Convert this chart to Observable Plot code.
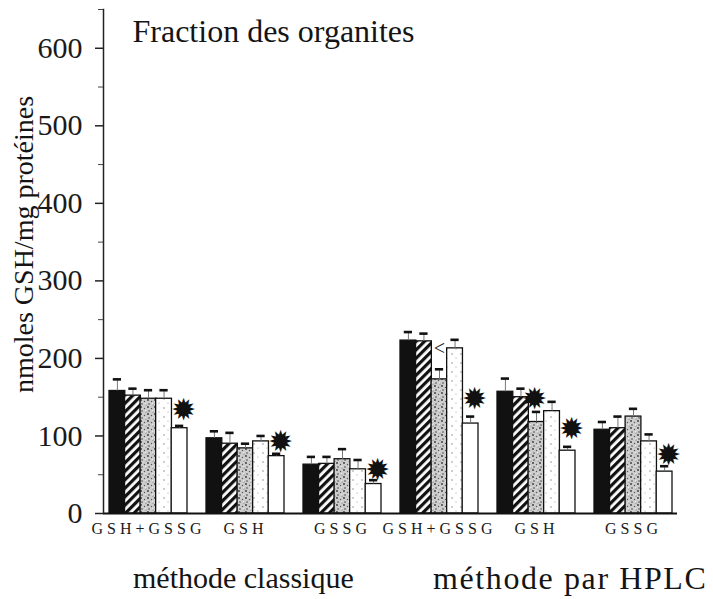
<!DOCTYPE html>
<html><head><meta charset="utf-8">
<script src="https://cdn.jsdelivr.net/npm/d3@7"></script>
<script src="https://cdn.jsdelivr.net/npm/@observablehq/plot@0.6"></script>
<style>
body{margin:0;background:#fff;}
#wrap{position:relative;width:713px;height:599px;overflow:hidden;background:#fff;}
.bottom{position:absolute;top:560px;font-family:"Liberation Serif","Times New Roman","DejaVu Serif",serif;font-size:30px;color:#141414;white-space:nowrap;line-height:36px;}
#wrap svg g[aria-label="x-axis tick label"] text{letter-spacing:4px;}
</style></head><body><div id="wrap"></div>
<script>
const title = "Fraction des organites";
const yLabel = "nmoles GSH/mg protéines";
const bottomLabels = ["méthode classique", "méthode par HPLC"];
const methods = ["classique", "classique", "classique", "HPLC", "HPLC", "HPLC"];
const fractions = ["GSH+GSSG", "GSH", "GSSG", "GSH+GSSG", "GSH", "GSSG"];
const yTicks = [0, 100, 200, 300, 400, 500, 600];
const yMinor = [50, 150, 250, 350, 450, 550, 650];

// five bar series (black, hatched, stippled, light dotted, white)
const s1 = [158, 97, 63, 223, 157, 108];
const s2 = [152, 90, 64, 222, 150, 110];
const s3 = [148, 84, 70, 173, 118, 125];
const s4 = [148, 93, 57, 213, 132, 93];
const s5 = [110, 74, 38, 116, 81, 54];
// top of error bars
const e1 = [173, 106, 73, 234, 174, 118];
const e2 = [161, 104, 73, 232, 161, 125];
const e3 = [159, 90, 83, 186, 131, 135];
const e4 = [159, 100, 69, 224, 144, 102];
const e5 = [113, 77, 43, 125, 86, 61];
// significance stars: group index, series index, y
const starGroups = [0, 1, 2, 3, 4, 5];
const starSeries5Y = [133, 92, 55, 147, 108, 75];
const starSeries3 = {group: 4, y: 147};
const arrowMark = {group: 3, y: 213};

const keys = fractions.map((f, i) => methods[i] + "|" + f);
const values = [s1, s2, s3, s4, s5];
const errs = [e1, e2, e3, e4, e5];
const rows = [];
values.forEach((vals, s) => vals.forEach((v, g) => rows.push({key: keys[g], s, value: v, err: errs[s][g]})));

const W = 713, H = 548, mL = 103, mR = 36, mT = 9, mB = 35;
const padIn = 0.2, padOut = 0.053;
const step = (W - mL - mR) / (keys.length - padIn + 2 * padOut);
const bandW = step * (1 - padIn);
const bw = bandW / 5;
const capW = 8;

const fills = ["#111", "url(#hatch)", "url(#stipple)", "url(#dots)", "#fff"];
const serif = "'Liberation Serif', 'Times New Roman', 'DejaVu Serif', serif";

const marks = [];
for (let s = 0; s < 5; s++) {
  const d = rows.filter(r => r.s === s);
  marks.push(Plot.barY(d, {x: "key", y: "value", fill: fills[s], stroke: "#111", strokeWidth: 1.3,
    insetLeft: s * bw, insetRight: (4 - s) * bw}));
}
for (let s = 0; s < 5; s++) {
  const d = rows.filter(r => r.s === s);
  marks.push(Plot.ruleX(d, {x: "key", y1: "value", y2: "err", dx: (s - 2) * bw, stroke: "#777", strokeWidth: 1}));
  marks.push(Plot.tickY(d, {x: "key", y: "err", stroke: "#111", strokeWidth: 2.6,
    insetLeft: s * bw + (bw - capW) / 2, insetRight: (4 - s) * bw + (bw - capW) / 2}));
}
marks.push(Plot.text(starGroups.map((g, i) => ({key: keys[g], y: starSeries5Y[i]})),
  {x: "key", y: "y", text: () => "\u2739", dx: 2 * bw + 4, fontSize: 30, fontFamily: "DejaVu Sans", fill: "#111"}));
marks.push(Plot.text([{key: keys[starSeries3.group], y: starSeries3.y}],
  {x: "key", y: "y", text: () => "\u2739", dx: -2, fontSize: 30, fontFamily: "DejaVu Sans", fill: "#111"}));
marks.push(Plot.text([{key: keys[arrowMark.group], y: arrowMark.y}],
  {x: "key", y: "y", text: () => "<", dx: 0, fontSize: 20, fontFamily: serif, fill: "#222"}));

marks.push(Plot.ruleY([0], {stroke: "#111", strokeWidth: 2}));
marks.push(Plot.frame({anchor: "left", stroke: "#222", strokeWidth: 1.5}));
marks.push(Plot.axisY(yTicks, {tickSize: 8, tickPadding: 13, fontSize: 30, fontFamily: serif, fill: "#1a1a1a", stroke: "#222", strokeWidth: 1.5}));
marks.push(Plot.axisY(yMinor, {tickSize: 5, tickFormat: () => "", stroke: "#444"}));
marks.push(Plot.axisX({tickSize: 0, tickPadding: 9, fontSize: 16, fontFamily: serif, fill: "#1a1a1a",
  tickFormat: k => k.split("|")[1]}));
marks.push(Plot.text([title], {frameAnchor: "top-left", dx: 29, dy: 10, textAnchor: "start", lineAnchor: "top",
  fontSize: 32, fontFamily: serif, fill: "#141414"}));
marks.push(Plot.text([yLabel], {frameAnchor: "left", textAnchor: "middle", rotate: -90, dx: -79, dy: -17, fontSize: 28,
  fontFamily: serif, fill: "#141414"}));

const chart = Plot.plot({
  width: W, height: H,
  marginLeft: mL, marginRight: mR, marginTop: mT, marginBottom: mB,
  x: {domain: keys, paddingInner: padIn, paddingOuter: padOut, label: null},
  y: {domain: [0, 650], label: null},
  style: {background: "#fff", overflow: "visible"},
  marks
});
const wrap = document.getElementById("wrap");
wrap.appendChild(chart);
const svg = d3.select(chart.tagName.toLowerCase() === "svg" ? chart : chart.querySelector("svg"));
const defs = svg.insert("defs", ":first-child");
const hatch = defs.append("pattern").attr("id", "hatch").attr("patternUnits", "userSpaceOnUse")
  .attr("width", 6).attr("height", 6).attr("patternTransform", "rotate(45)");
hatch.append("rect").attr("width", 6).attr("height", 6).attr("fill", "#fff");
hatch.append("rect").attr("width", 3.2).attr("height", 6).attr("fill", "#111");
const stip = defs.append("pattern").attr("id", "stipple").attr("patternUnits", "userSpaceOnUse")
  .attr("width", 7).attr("height", 7);
stip.append("rect").attr("width", 7).attr("height", 7).attr("fill", "#cdcdcd");
[[1, 1, 0.9, "#333"], [4.5, 2.5, 0.7, "#555"], [2, 5, 0.8, "#444"], [6, 6, 0.6, "#666"], [5.5, 4.8, 0.7, "#eee"]]
  .forEach(([cx, cy, r, c]) => stip.append("circle").attr("cx", cx).attr("cy", cy).attr("r", r).attr("fill", c));
const dots = defs.append("pattern").attr("id", "dots").attr("patternUnits", "userSpaceOnUse")
  .attr("width", 9).attr("height", 9);
dots.append("rect").attr("width", 9).attr("height", 9).attr("fill", "#fff");
[[2, 3, 0.7, "#777"], [6, 7, 0.6, "#999"]]
  .forEach(([cx, cy, r, c]) => dots.append("circle").attr("cx", cx).attr("cy", cy).attr("r", r).attr("fill", c));

const lefts = [133, 433];
const sizes = [30, 32];
const spacing = [0, 1.6];
bottomLabels.forEach((t, i) => {
  const el = document.createElement("div");
  el.className = "bottom";
  el.style.left = lefts[i] + "px";
  el.style.fontSize = sizes[i] + "px";
  el.style.letterSpacing = spacing[i] + "px";
  el.textContent = t;
  wrap.appendChild(el);
});
</script>
</body></html>
